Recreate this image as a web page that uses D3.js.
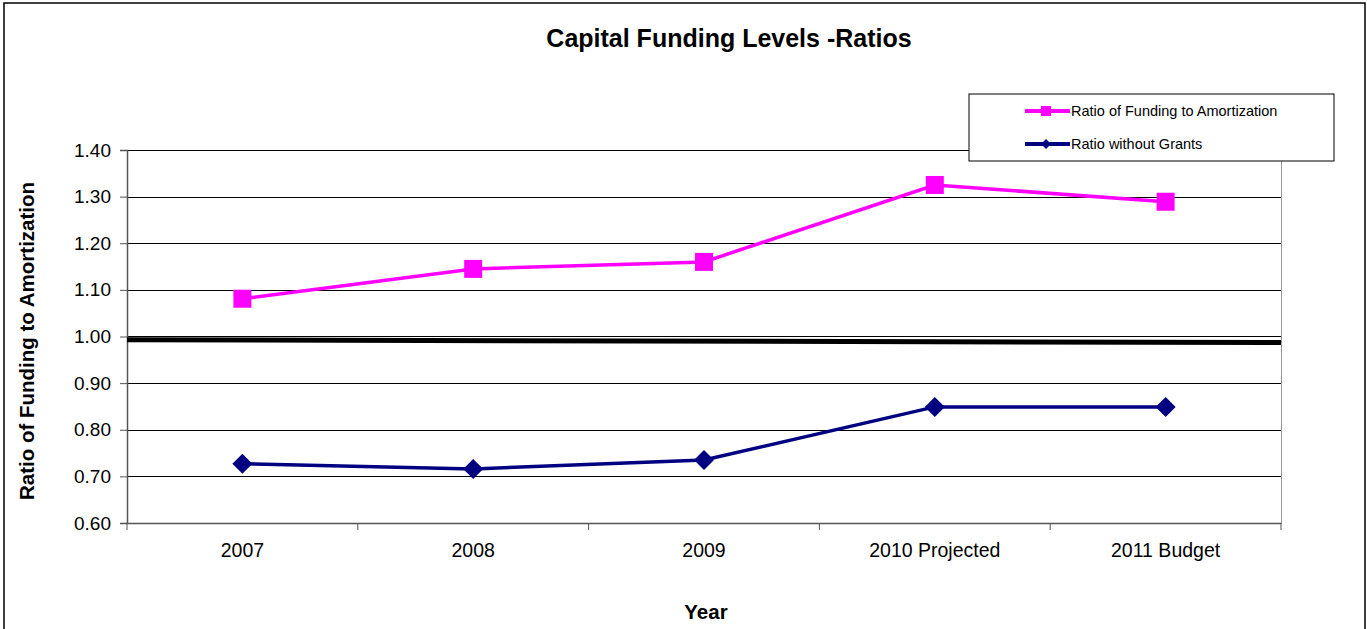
<!DOCTYPE html>
<html>
<head>
<meta charset="utf-8">
<script src="https://cdn.jsdelivr.net/npm/d3@7"></script>
<style>
  body { margin: 0; background: #fff; }
  svg { display: block; font-family: "Liberation Sans", Arial, sans-serif; }
</style>
</head>
<body>
<svg id="chart" width="1367" height="629"></svg>
<script>
const years = ["2007", "2008", "2009", "2010 Projected", "2011 Budget"];
const fundingRatio = [1.081, 1.145, 1.160, 1.325, 1.289];
const withoutGrants = [0.727, 0.716, 0.735, 0.849, 0.849];
const benchmark = [0.993, 0.987]; // thick line across the plot, left edge to right edge
const yTicks = [0.60, 0.70, 0.80, 0.90, 1.00, 1.10, 1.20, 1.30, 1.40];

const svg = d3.select("#chart");
const width = 1367, height = 629;
const margin = { top: 150, right: 86, bottom: 106, left: 127 };
const innerWidth = width - margin.left - margin.right;
const innerHeight = height - margin.top - margin.bottom;

svg.append("rect")
    .attr("x", 4).attr("y", 3)
    .attr("width", 1361).attr("height", 640)
    .attr("fill", "#fff")
    .attr("stroke", "#000")
    .attr("stroke-width", 1.5);

const g = svg.append("g").attr("transform", `translate(${margin.left},${margin.top})`);

const x = d3.scaleBand().domain(years).range([0, innerWidth]);
const y = d3.scaleLinear().domain([0.6, 1.4]).range([innerHeight, 0]);

// gridlines
g.append("g")
    .selectAll("line")
    .data(yTicks)
    .join("line")
    .attr("x1", 0).attr("x2", innerWidth)
    .attr("y1", d => Math.round(y(d)) + 0.5).attr("y2", d => Math.round(y(d)) + 0.5)
    .attr("stroke", "#000")
    .attr("stroke-width", 1);

// right plot border
g.append("line")
    .attr("x1", innerWidth + 0.5).attr("x2", innerWidth + 0.5)
    .attr("y1", 0).attr("y2", innerHeight)
    .attr("stroke", "#999");

// y axis
const yAxis = g.append("g")
    .call(d3.axisLeft(y).tickValues(yTicks).tickFormat(d3.format(".2f")).tickSize(7).tickPadding(9));
yAxis.select(".domain").attr("stroke", "#555").attr("stroke-width", 1.5);
yAxis.selectAll(".tick line").attr("stroke", "#555");
yAxis.selectAll("text").style("font-size", "19px").attr("fill", "#000");

// x axis
const xAxis = g.append("g")
    .attr("transform", `translate(0,${innerHeight})`)
    .call(d3.axisBottom(x).tickSize(0).tickPadding(20));
xAxis.select(".domain").attr("stroke", "#555").attr("stroke-width", 1.5);
xAxis.selectAll("text").style("font-size", "19.5px").attr("fill", "#000");
g.append("g")
    .selectAll("line")
    .data(d3.range(years.length + 1))
    .join("line")
    .attr("x1", i => i * x.step()).attr("x2", i => i * x.step())
    .attr("y1", innerHeight).attr("y2", innerHeight + 7)
    .attr("stroke", "#555");

// benchmark line
g.append("line")
    .attr("x1", 0).attr("x2", innerWidth)
    .attr("y1", y(benchmark[0])).attr("y2", y(benchmark[1]))
    .attr("stroke", "#000")
    .attr("stroke-width", 5);

const cx = (d, i) => x(years[i]) + x.bandwidth() / 2;

// pink series
g.append("path")
    .datum(fundingRatio)
    .attr("fill", "none")
    .attr("stroke", "#ff00ff")
    .attr("stroke-width", 3.5)
    .attr("d", d3.line().x(cx).y(d => y(d)));
g.selectAll(".sq")
    .data(fundingRatio)
    .join("rect")
    .attr("class", "sq")
    .attr("x", (d, i) => cx(d, i) - 9)
    .attr("y", d => y(d) - 9)
    .attr("width", 18).attr("height", 18)
    .attr("fill", "#ff00ff");

// navy series
g.append("path")
    .datum(withoutGrants)
    .attr("fill", "none")
    .attr("stroke", "#000080")
    .attr("stroke-width", 3.5)
    .attr("d", d3.line().x(cx).y(d => y(d)));
g.selectAll(".dm")
    .data(withoutGrants)
    .join("path")
    .attr("class", "dm")
    .attr("transform", (d, i) => `translate(${cx(d, i)},${y(d)})`)
    .attr("d", "M0,-10L10,0L0,10L-10,0Z")
    .attr("fill", "#000080");

// titles
svg.append("text")
    .attr("x", 729).attr("y", 47)
    .attr("text-anchor", "middle")
    .style("font-size", "25px")
    .style("font-weight", "bold")
    .text("Capital Funding Levels -Ratios");

svg.append("text")
    .attr("transform", `translate(34,341) rotate(-90)`)
    .attr("text-anchor", "middle")
    .style("font-size", "20.5px")
    .style("font-weight", "bold")
    .text("Ratio of Funding to Amortization");

svg.append("text")
    .attr("x", 706).attr("y", 619)
    .attr("text-anchor", "middle")
    .style("font-size", "20.5px")
    .style("font-weight", "bold")
    .text("Year");

// legend
const legend = svg.append("g").attr("transform", "translate(969,94)");
legend.append("rect")
    .attr("width", 365).attr("height", 67)
    .attr("fill", "#fff")
    .attr("stroke", "#000");
const legendItems = [
    { label: "Ratio of Funding to Amortization", color: "#ff00ff", shape: "square" },
    { label: "Ratio without Grants", color: "#000080", shape: "diamond" }
];
legendItems.forEach((d, i) => {
    const row = legend.append("g").attr("transform", `translate(0,${17 + i * 33})`);
    row.append("line")
        .attr("x1", 56).attr("x2", 101)
        .attr("stroke", d.color).attr("stroke-width", 4);
    if (d.shape === "square") {
        row.append("rect").attr("x", 72).attr("y", -5).attr("width", 10).attr("height", 10).attr("fill", d.color);
    } else {
        row.append("path").attr("d", "M77,-5L82,0L77,5L72,0Z").attr("fill", d.color);
    }
    row.append("text")
        .attr("x", 102).attr("y", 5)
        .style("font-size", "14.5px")
        .text(d.label);
});
</script>
</body>
</html>
